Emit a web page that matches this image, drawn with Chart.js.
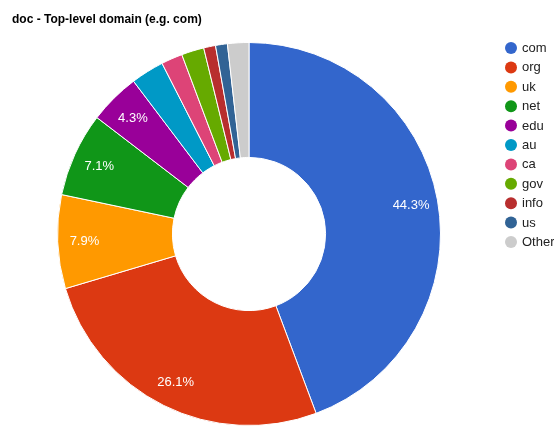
<!DOCTYPE html>
<html>
<head>
<meta charset="utf-8">
<script src="https://cdn.jsdelivr.net/npm/chart.js@4"></script>
<style>
  html, body { margin: 0; padding: 0; background: #fff; }
  #wrap { position: relative; width: 554px; height: 426px; overflow: hidden; }
  #title { position: absolute; left: 12px; top: 12px; font: bold 12px "Liberation Sans", Arial, sans-serif; color: #000; }
  canvas { position: absolute; left: 0; top: 0; }
</style>
</head>
<body>
<div id="wrap">
  <canvas id="domainChart" width="554" height="426"></canvas>
  <div id="title">doc - Top-level domain (e.g. com)</div>
</div>
<script>
const domains = ["com", "org", "uk", "net", "edu", "au", "ca", "gov", "info", "us", "Other"];
const shares = [44.3, 26.1, 7.9, 7.1, 4.3, 2.8, 1.8, 1.9, 1.0, 1.0, 1.8];
const sliceColors = ["#3366cc", "#dc3912", "#ff9900", "#109618", "#990099", "#0099c6",
                     "#dd4477", "#66aa00", "#b82e2e", "#316395", "#cccccc"];

document.addEventListener("DOMContentLoaded", function () {
  const ctx = document.getElementById("domainChart").getContext("2d");

  // percentage labels inside the big slices
  const sliceLabels = {
    id: "sliceLabels",
    afterDatasetsDraw(chart) {
      const meta = chart.getDatasetMeta(0);
      const total = shares.reduce((a, b) => a + b, 0);
      const c = chart.ctx;
      c.save();
      c.font = "13px 'Liberation Sans', Arial, sans-serif";
      c.fillStyle = "#ffffff";
      c.textAlign = "center";
      c.textBaseline = "middle";
      meta.data.forEach((arc, i) => {
        const pct = shares[i] / total * 100;
        if (pct < 4) return;
        const mid = (arc.startAngle + arc.endAngle) / 2;
        const r = arc.outerRadius * 0.86;
        c.fillText(pct.toFixed(1) + "%", arc.x + Math.cos(mid) * r, arc.y + Math.sin(mid) * r + 1);
      });
      c.restore();
    }
  };

  // legend on the right, drawn from the same data
  const sideLegend = {
    id: "sideLegend",
    afterDraw(chart) {
      const c = chart.ctx;
      c.save();
      c.font = "13px 'Liberation Sans', Arial, sans-serif";
      c.textBaseline = "middle";
      chart.data.labels.forEach((lab, i) => {
        const y = 48 + i * 19.4;
        c.beginPath();
        c.arc(511, y, 6, 0, Math.PI * 2);
        c.fillStyle = sliceColors[i];
        c.fill();
        c.fillStyle = "#222222";
        c.fillText(lab, 522, y + 0.5);
      });
      c.restore();
    }
  };

  new Chart(ctx, {
    type: "doughnut",
    data: {
      labels: domains,
      datasets: [{
        data: shares,
        backgroundColor: sliceColors,
        borderColor: "#ffffff",
        borderWidth: 1
      }]
    },
    options: {
      responsive: false,
      animation: false,
      cutout: "40%",
      layout: { padding: { left: 56, top: 42, right: 112, bottom: -2 } },
      plugins: {
        legend: { display: false },
        tooltip: { enabled: false }
      }
    },
    plugins: [sliceLabels, sideLegend]
  });
});
</script>
</body>
</html>
